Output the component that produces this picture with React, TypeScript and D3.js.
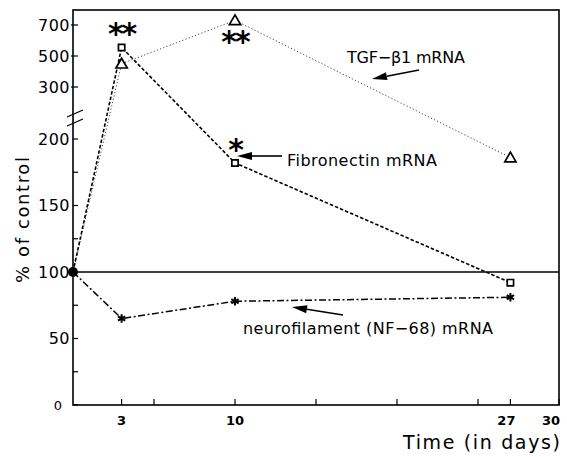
import React from 'react';
import * as d3 from 'd3';

// time points (days) and % of control for each mRNA
const days = [0, 3, 10, 27];
const tgfBeta = [100, 450, 730, 186];
const fibronectin = [100, 555, 182, 92];
const neurofilament = [100, 65, 78, 81];

// significance marks per point
const fibSig = ['', '**', '*', ''];
const tgfSig = ['', '', '**', ''];

const xTicks = [3, 5, 10, 15, 20, 25, 27, 30];
const xTickLabels = [3, 10, 27, 30];
const yLowTicks = [0, 25, 50, 75, 100, 125, 150, 175, 200];
const yLowLabels = [0, 50, 100, 150, 200];
const yHighTicks = [300, 500, 700];

const W = 567;
const H = 457;
const left = 73;
const right = 559;
const top = 10;
const bottom = 405;

const x = d3.scaleLinear().domain([0, 30]).range([left, right]);
const yLow = d3.scaleLinear().domain([0, 200]).range([bottom, 139]);
const yHigh = d3.scaleLinear().domain([300, 700]).range([87, 25]);
const y = (v: number) => (v > 250 ? yHigh(v) : yLow(v));

const line = d3
  .line<number>()
  .x((_, i) => x(days[i]))
  .y((d) => y(d));

const triangle = d3.symbol().type(d3.symbolTriangle).size(55)();
const square = d3.symbol().type(d3.symbolSquare).size(40)();
const star = d3.symbol().type(d3.symbolAsterisk).size(50)();

const font = 'DejaVu Sans, Verdana, sans-serif';

function Arrow({ x1, y1, x2, y2 }: { x1: number; y1: number; x2: number; y2: number }) {
  // arrow pointing to (x2, y2)
  const a = Math.atan2(y2 - y1, x2 - x1);
  const len = 15;
  const w = 4;
  const bx = x2 - len * Math.cos(a);
  const by = y2 - len * Math.sin(a);
  const px = -Math.sin(a) * w;
  const py = Math.cos(a) * w;
  return (
    <g>
      <line x1={x1} y1={y1} x2={bx} y2={by} stroke="#000" strokeWidth={1.6} />
      <path d={`M${x2},${y2}L${bx + px},${by + py}L${bx - px},${by - py}Z`} fill="#000" />
    </g>
  );
}

function Stars({ cx, cy, text }: { cx: number; cy: number; text: string }) {
  if (!text) return null;
  return (
    <text
      x={cx}
      y={cy + 14}
      textAnchor="middle"
      fontFamily={font}
      fontWeight="bold"
      fontSize={30}
      letterSpacing={-2}
    >
      {text}
    </text>
  );
}

export default function App() {
  return (
    <svg
      width={W}
      height={H}
      style={{ position: 'absolute', left: 0, top: 0, background: '#fff' }}
    >
      <rect width={W} height={H} fill="#fff" />

      {/* frame */}
      <rect
        x={left}
        y={top}
        width={right - left}
        height={bottom - top}
        fill="none"
        stroke="#000"
        strokeWidth={1.6}
      />

      {/* 100% reference */}
      <line x1={left} x2={right} y1={yLow(100)} y2={yLow(100)} stroke="#000" strokeWidth={1.4} />

      {/* y ticks lower */}
      {yLowTicks.map((t) => (
        <line key={'yl' + t} x1={left} x2={left + 5} y1={yLow(t)} y2={yLow(t)} stroke="#000" strokeWidth={1.2} />
      ))}
      {yLowLabels.map((t) => (
        <text
          key={'yll' + t}
          x={left - 3}
          y={yLow(t)}
          dy="0.36em"
          textAnchor="end"
          fontFamily={font}
          fontSize={t === 0 ? 13 : 16}
          letterSpacing={t === 0 ? 0 : 0.5}
          dx={t === 0 ? -8 : 0}
        >
          {t}
        </text>
      ))}
      {/* y ticks upper */}
      {yHighTicks.map((t) => (
        <g key={'yh' + t}>
          <line x1={left - 2} x2={left + 5} y1={yHigh(t)} y2={yHigh(t)} stroke="#000" strokeWidth={1.2} />
          <text
            x={left - 3}
            y={yHigh(t)}
            dy="0.36em"
            textAnchor="end"
            fontFamily={font}
            fontSize={16}
            letterSpacing={0.5}
          >
            {t}
          </text>
        </g>
      ))}
      {/* axis break */}
      <line x1={left - 6} y1={117} x2={left + 10} y2={110} stroke="#000" strokeWidth={1.3} />
      <line x1={left - 6} y1={126} x2={left + 10} y2={119} stroke="#000" strokeWidth={1.3} />

      {/* x ticks */}
      {xTicks.map((t) => (
        <line key={'xt' + t} x1={x(t)} x2={x(t)} y1={bottom} y2={bottom - 6} stroke="#000" strokeWidth={1.2} />
      ))}
      {xTickLabels.map((t) => (
        <text
          key={'xl' + t}
          x={t === 30 ? x(t) + 1 : x(t) - (t === 27 ? 4 : 0)}
          y={bottom + 20}
          textAnchor={t === 30 ? 'end' : 'middle'}
          fontFamily={font}
          fontWeight="bold"
          fontSize={13}
        >
          {t}
        </text>
      ))}

      {/* axis titles */}
      <text
        transform="translate(29,220) rotate(-90)"
        textAnchor="middle"
        fontFamily={font}
        fontSize={18}
        textLength={126}
        lengthAdjust="spacing"
      >
        % of control
      </text>
      <text
        x={403}
        y={449}
        fontFamily={font}
        fontSize={19}
        textLength={157}
        lengthAdjust="spacing"
      >
        Time (in days)
      </text>

      {/* series lines */}
      <path d={line(tgfBeta) || ''} fill="none" stroke="#444" strokeWidth={1} strokeDasharray="1.2,2.2" />
      <path d={line(fibronectin) || ''} fill="none" stroke="#000" strokeWidth={1.6} strokeDasharray="3.5,2" />
      <path
        d={line(neurofilament) || ''}
        fill="none"
        stroke="#000"
        strokeWidth={1.5}
        strokeDasharray="7,2.5,2,2.5"
      />

      {/* markers */}
      {tgfBeta.map((v, i) =>
        i === 0 ? null : (
          <path
            key={'tg' + i}
            d={triangle || ''}
            transform={`translate(${x(days[i])},${y(v) + 1})`}
            fill="#fff"
            stroke="#000"
            strokeWidth={1.7}
          />
        )
      )}
      {fibronectin.map((v, i) =>
        i === 0 ? null : (
          <path
            key={'fb' + i}
            d={square || ''}
            transform={`translate(${x(days[i])},${y(v)})`}
            fill="#fff"
            stroke="#000"
            strokeWidth={1.7}
          />
        )
      )}
      {neurofilament.map((v, i) =>
        i === 0 ? null : (
          <path
            key={'nf' + i}
            d={star || ''}
            transform={`translate(${x(days[i])},${y(v)})`}
            fill="none"
            stroke="#000"
            strokeWidth={2}
          />
        )
      )}
      <circle cx={x(days[0])} cy={y(neurofilament[0])} r={5} fill="#000" />

      {/* significance */}
      {fibSig.map((s, i) => (
        <Stars key={'fs' + i} cx={x(days[i])} cy={y(fibronectin[i]) - 17} text={s} />
      ))}
      {tgfSig.map((s, i) => (
        <Stars key={'ts' + i} cx={x(days[i])} cy={y(tgfBeta[i]) + 18} text={s} />
      ))}

      {/* annotations */}
      <text x={347} y={63} fontFamily={font} fontSize={16} textLength={118} lengthAdjust="spacing">
        TGF−β1 mRNA
      </text>
      <Arrow x1={419} y1={70} x2={372} y2={79} />

      <text x={287} y={166} fontFamily={font} fontSize={16} textLength={150} lengthAdjust="spacing">
        Fibronectin mRNA
      </text>
      <Arrow x1={282} y1={156} x2={237} y2={156} />

      <text x={243} y={334} fontFamily={font} fontSize={16} textLength={250} lengthAdjust="spacing">
        neurofilament (NF−68) mRNA
      </text>
      <Arrow x1={343} y1={315} x2={292} y2={307} />
    </svg>
  );
}
